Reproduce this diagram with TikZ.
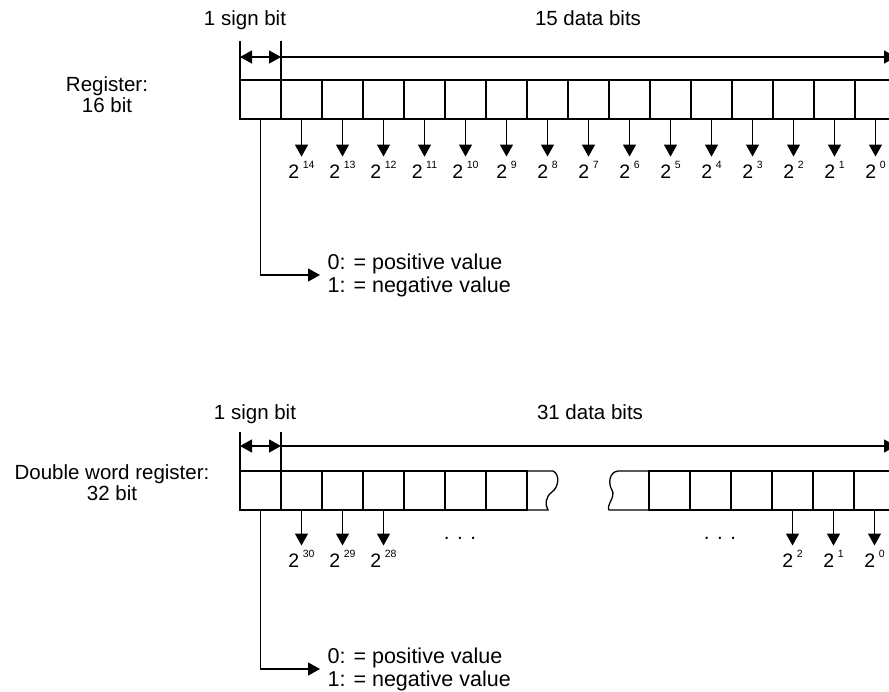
\documentclass[tikz,border=0pt]{standalone}
\usepackage{fontspec}
\setmainfont{Liberation Sans}
\usetikzlibrary{arrows.meta}

% power of two label
\newcommand{\pwtwo}[1]{2\hspace{3.5pt}\raisebox{9.5pt}{\fontsize{10.5}{10.5}\selectfont #1}}

\begin{document}
\begin{tikzpicture}[x=1pt, y=-1pt, line width=1.3pt,
    cell/.style={draw, minimum width=41pt, minimum height=39pt, inner sep=0pt, outer sep=0pt, anchor=north west},
    txt/.style={font=\fontsize{20.5}{21}\selectfont},
    pwlab/.style={font=\fontsize{19.5}{19.5}\selectfont, inner sep=4pt, anchor=base},
    tip/.style={-{Triangle[width=13pt, length=12pt]}},
    dimline/.style={{Triangle[width=13pt, length=12pt]}-{Triangle[width=13pt, length=12pt]}}]
    \useasboundingbox (0,0) rectangle (889,691);

    % Register 16 bit
    \node[txt, align=center] (reg1) at (107,95) {Register:\\16 bit};
    \foreach \i in {0,...,15}
        \node[cell] (r\i) at (240+41*\i, 80) {};
    \foreach \i [evaluate=\i as \e using int(15-\i)] in {1,...,15} {
        \node[pwlab] (p\i) at ([yshift=-59pt]r\i.south) {\pwtwo{\e}};
        \draw[tip] (r\i.south) -- (p\i.north);
    }

    % Bemassung oben
    \node[txt, anchor=base] (sign1) at (245,25) {1 sign bit};
    \node[txt, anchor=base] (data1) at (588,25) {15 data bits};
    \coordinate (e0) at (240,41);
    \coordinate (e1) at (281,41);
    \coordinate (d0) at (240,57);
    \coordinate (d1) at (281,57);
    \coordinate (d2) at (896,57);
    \draw (e0) -- (r0.north west);
    \draw (e1) -- (r1.north west);
    \draw[dimline] (d0) -- (d1);
    \draw[tip] (d1) -- (d2);

    % Vorzeichen
    \node[font=\fontsize{21.5}{23}\selectfont, align=left, anchor=west, inner xsep=7pt, inner ysep=0pt] (val1) at (320,275)
        {0: = positive value\\1: = negative value};
    \draw[tip] (r0.south) |- (val1.west);

    % Double word register 32 bit
    \node[txt, align=center] (reg2) at (112,483) {Double word register:\\32 bit};
    \foreach \i in {0,...,6}
        \node[cell] (b\i) at (240+41*\i, 471) {};
    \foreach \j in {0,...,5}
        \node[cell] (c\j) at (649+41*\j, 471) {};
    \draw (b6.north east) -- (553,471) .. controls (560,474) and (559,487) .. (552,492)
        .. controls (545,497) and (545,505) .. (548,510) -- (b6.south east);
    \draw (c0.north west) -- (618,471) .. controls (609,472) and (608,484) .. (612,490)
        .. controls (616,497) and (606,505) .. (609,510) -- (c0.south west);
    \foreach \i [evaluate=\i as \e using int(31-\i)] in {1,2,3} {
        \node[pwlab] (q\i) at ([yshift=-57pt]b\i.south) {\pwtwo{\e}};
        \draw[tip] (b\i.south) -- (q\i.north);
    }
    \foreach \j [evaluate=\j as \e using int(5-\j)] in {3,4,5} {
        \node[pwlab] (s\j) at ([yshift=-57pt]c\j.south) {\pwtwo{\e}};
        \draw[tip] (c\j.south) -- (s\j.north);
    }
    \node[txt, anchor=base] (dots1) at (460,539) {. . .};
    \node[txt, anchor=base] (dots2) at (720,539) {. . .};

    % Bemassung unten
    \node[txt, anchor=base] (sign2) at (255,419) {1 sign bit};
    \node[txt, anchor=base] (data2) at (590,419) {31 data bits};
    \coordinate (f0) at (240,432);
    \coordinate (f1) at (281,432);
    \coordinate (g0) at (240,446);
    \coordinate (g1) at (281,446);
    \coordinate (g2) at (896,446);
    \draw (f0) -- (b0.north west);
    \draw (f1) -- (b1.north west);
    \draw[dimline] (g0) -- (g1);
    \draw[tip] (g1) -- (g2);

    \node[font=\fontsize{21.5}{23}\selectfont, align=left, anchor=west, inner xsep=7pt, inner ysep=0pt] (val2) at (320,669)
        {0: = positive value\\1: = negative value};
    \draw[tip] (b0.south) |- (val2.west);
\end{tikzpicture}
\end{document}
